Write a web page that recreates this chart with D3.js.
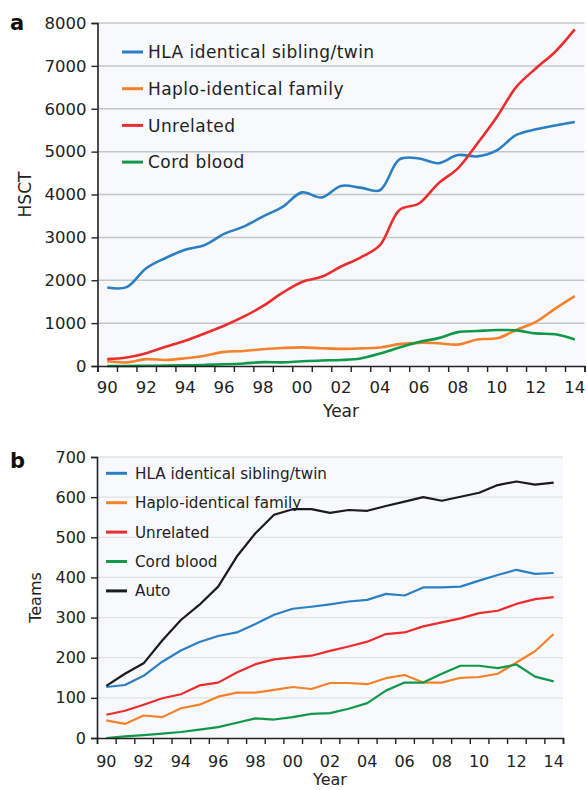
<!DOCTYPE html>
<html>
<head>
<meta charset="utf-8">
<script src="https://cdn.jsdelivr.net/npm/d3@7"></script>
<style>
  body { margin: 0; background: #fff; }
  svg { display: block; font-family: 'DejaVu Sans', sans-serif; }
</style>
</head>
<body>
<svg id="chart" width="587" height="790"></svg>
<script>
const years = [1990, 1991, 1992, 1993, 1994, 1995, 1996, 1997, 1998, 1999, 2000, 2001, 2002,
  2003, 2004, 2005, 2006, 2007, 2008, 2009, 2010, 2011, 2012, 2013, 2014]
const yearLabels = [1990, 1992, 1994, 1996, 1998, 2000, 2002, 2004, 2006, 2008, 2010, 2012, 2014]

// panel a : HSCT
const hsctSibling = [1830, 1840, 2280, 2520, 2710, 2820, 3080, 3250, 3490, 3710, 4050, 3930, 4200,
  4160, 4100, 4820, 4840, 4730, 4920, 4890, 5030, 5390, 5520, 5610, 5690]
const hsctHaplo = [110, 85, 160, 140, 180, 240, 330, 350, 390, 420, 435, 415, 400,
  410, 430, 510, 540, 530, 500, 620, 645, 840, 1030, 1340, 1630]
const hsctUnrelated = [160, 200, 300, 450, 590, 760, 940, 1150, 1400, 1710, 1960, 2080, 2320,
  2530, 2820, 3640, 3790, 4260, 4610, 5190, 5810, 6510, 6940, 7330, 7850]
const hsctCord = [0, 0, 5, 10, 15, 25, 40, 60, 90, 85, 110, 130, 140,
  175, 290, 430, 560, 650, 790, 815, 840, 830, 760, 740, 620]
const hsctTicks = [0, 1000, 2000, 3000, 4000, 5000, 6000, 7000, 8000]

// panel b : Teams
const teamsSibling = [127, 132, 155, 190, 218, 239, 254, 263, 284, 307, 322, 327, 333,
  340, 344, 359, 355, 375, 375, 377, 392, 406, 419, 409, 411]
const teamsHaplo = [44, 35, 56, 52, 74, 83, 103, 113, 113, 120, 127, 122, 137,
  137, 134, 149, 157, 138, 138, 150, 152, 160, 188, 216, 259]
const teamsUnrelated = [58, 68, 83, 99, 109, 131, 138, 163, 184, 196, 201, 205, 217,
  228, 240, 259, 263, 278, 288, 298, 311, 317, 334, 346, 351]
const teamsCord = [0, 4, 7, 11, 15, 21, 27, 38, 49, 46, 52, 60, 62,
  73, 87, 118, 138, 138, 160, 180, 180, 174, 183, 153, 141]
const teamsAuto = [130, 160, 186, 243, 294, 332, 377, 452, 510, 556, 570, 570, 561,
  568, 566, 578, 589, 600, 591, 601, 611, 630, 639, 631, 636]
const teamsTicks = [0, 100, 200, 300, 400, 500, 600, 700]

const names = ['HLA identical sibling/twin', 'Haplo-identical family', 'Unrelated', 'Cord blood', 'Auto']
const colors = ['#2b80c5', '#f5822a', '#ec2d2d', '#11994a', '#1b1b1b']

const svg = d3.select('#chart')

function drawPanel (p) {
  const x = d3.scaleLinear().domain([1989.5, 2014.5]).range([p.left, p.right])
  const y = d3.scaleLinear().domain([0, p.max]).range([p.bottom, p.top])
  const g = svg.append('g')

  // plot background
  g.append('rect')
    .attr('x', p.left).attr('y', p.top)
    .attr('width', p.right - p.left).attr('height', p.bottom - p.top)
    .attr('fill', '#f8f9fc')

  // gridlines
  g.append('g').selectAll('line')
    .data(p.ticks.filter(d => d > 0))
    .enter().append('line')
    .attr('x1', p.left).attr('x2', p.right)
    .attr('y1', d => y(d)).attr('y2', d => y(d))
    .attr('stroke', p.gridColor).attr('stroke-width', p.gridWidth)

  // lines
  const line = d3.line()
    .x((d, i) => x(years[i]))
    .y(d => y(d))
    .curve(p.curve)
  p.series.forEach((s, i) => {
    g.append('path')
      .datum(s)
      .attr('fill', 'none')
      .attr('stroke', colors[i])
      .attr('stroke-width', p.lineWidth)
      .attr('stroke-linejoin', 'round')
      .attr('d', line)
  })

  // y axis
  const yAxis = g.append('g')
    .attr('transform', `translate(${p.left},0)`)
    .call(d3.axisLeft(y).tickValues(p.ticks).tickSize(6).tickPadding(5).tickFormat(d3.format('d')))
  yAxis.select('.domain').attr('stroke', '#222').attr('stroke-width', 1.6)
  yAxis.selectAll('.tick line').attr('stroke', '#222').attr('stroke-width', 1.4)
  yAxis.selectAll('text')
    .attr('font-family', 'DejaVu Sans').attr('font-size', p.tickFont)
    .attr('fill', '#222')

  // x axis: ticks between years, labels at years
  const bounds = years.map(d => d - 0.5).concat([2014.5])
  const xAxis = g.append('g')
    .attr('transform', `translate(0,${p.bottom})`)
    .call(d3.axisBottom(x).tickValues(bounds).tickSize(6).tickFormat(''))
  xAxis.select('.domain').attr('stroke', '#222').attr('stroke-width', 1.6)
  xAxis.selectAll('.tick line').attr('stroke', '#222').attr('stroke-width', 1.4)

  g.append('g').selectAll('text')
    .data(yearLabels)
    .enter().append('text')
    .attr('x', d => x(d))
    .attr('y', p.bottom + p.xLabelDy)
    .attr('text-anchor', 'middle')
    .attr('font-size', p.tickFont)
    .attr('fill', '#222')
    .text(d => String(d).slice(2))

  // axis titles
  g.append('text')
    .attr('x', (p.left + p.right) / 2)
    .attr('y', p.yearY)
    .attr('text-anchor', 'middle')
    .attr('font-size', p.titleFont)
    .attr('fill', '#222')
    .text('Year')

  g.append('text')
    .attr('transform', `translate(${p.yTitleX},${(p.top + p.bottom) / 2}) rotate(-90)`)
    .attr('text-anchor', 'middle')
    .attr('font-size', p.titleFont)
    .attr('fill', '#222')
    .text(p.yTitle)

  // panel letter
  g.append('text')
    .attr('x', 10).attr('y', p.letterY)
    .attr('font-size', 21).attr('font-weight', 'bold')
    .attr('fill', '#111')
    .text(p.letter)

  // legend
  const leg = g.append('g').selectAll('g')
    .data(p.series.map((s, i) => i))
    .enter().append('g')
    .attr('transform', i => `translate(0,${p.legendY + i * p.legendStep})`)
  leg.append('line')
    .attr('x1', p.legendX).attr('x2', p.legendX + 21)
    .attr('stroke', i => colors[i]).attr('stroke-width', 3)
  leg.append('text')
    .attr('x', p.legendX + p.legendGap)
    .attr('dy', '0.36em')
    .attr('font-size', p.legendFont)
    .attr('fill', '#222')
    .style('letter-spacing', p.legendSpacing)
    .text(i => names[i])
}

drawPanel({
  left: 97.5, right: 584.5, top: 23, bottom: 366,
  max: 8000, ticks: hsctTicks,
  series: [hsctSibling, hsctHaplo, hsctUnrelated, hsctCord],
  curve: d3.curveCatmullRom.alpha(0.5),
  lineWidth: 2.6, gridColor: '#c4c6c8', gridWidth: 1.5,
  tickFont: 16.5, xLabelDy: 27,
  titleFont: 17, yearY: 417, yTitle: 'HSCT', yTitleX: 31,
  letter: 'a', letterY: 30,
  legendX: 122, legendY: 52, legendStep: 36.7, legendGap: 26,
  legendFont: 17, legendSpacing: '0.45px'
})

drawPanel({
  left: 97, right: 563, top: 457, bottom: 738,
  max: 700, ticks: teamsTicks,
  series: [teamsSibling, teamsHaplo, teamsUnrelated, teamsCord, teamsAuto],
  curve: d3.curveLinear,
  lineWidth: 2.2, gridColor: '#e1e3e5', gridWidth: 1.3,
  tickFont: 16, xLabelDy: 29,
  titleFont: 16, yearY: 785, yTitle: 'Teams', yTitleX: 41,
  letter: 'b', letterY: 468,
  legendX: 106, legendY: 473.3, legendStep: 29.4, legendGap: 29,
  legendFont: 15.2, legendSpacing: '0px'
})
</script>
</body>
</html>
